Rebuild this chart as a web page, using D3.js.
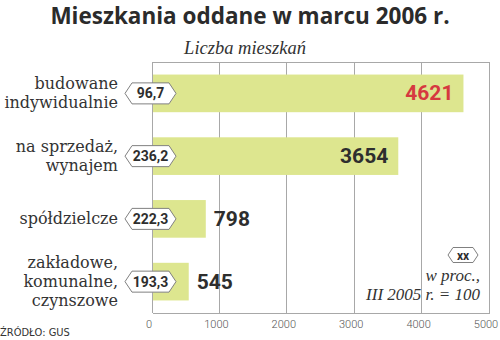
<!DOCTYPE html>
<html>
<head>
<meta charset="utf-8">
<script src="https://cdn.jsdelivr.net/npm/d3@7"></script>
<style>
  html, body { margin: 0; padding: 0; background: #fff; }
  svg { display: block; }
</style>
</head>
<body>
<svg id="chart" width="500" height="340"></svg>
<script>
// Dwellings completed in March 2006, by type of construction
const categories = [
  "budowane\nindywidualnie",
  "na sprzedaż,\nwynajem",
  "spółdzielcze",
  "zakładowe,\nkomunalne,\nczynszowe"
];
const values = [4621, 3654, 798, 545];
const indexValues = ["96,7", "236,2", "222,3", "193,3"];   // March 2005 = 100
const tickValues = [0, 1000, 2000, 3000, 4000, 5000];

const W = 500, H = 340;
const margin = { top: 62, right: 11, bottom: 27, left: 152 };
const svg = d3.select("#chart");

const x = d3.scaleLinear().domain([0, 5000]).range([margin.left, W - margin.right]);
const y = d3.scaleBand().domain(categories).range([margin.top, H - margin.bottom]).paddingInner(0.4).paddingOuter(0.2);

const barColor = "#dde68f";
const gridColor = "#a8a8a8";
const sans = "Roboto, 'DejaVu Sans', sans-serif";
const slab = "'DejaVu Serif', serif";
const ital = "'Liberation Serif', serif";

// Title and subtitle
svg.append("text")
  .attr("x", 250).attr("y", 24)
  .attr("text-anchor", "middle")
  .style("font-family", "'Open Sans', sans-serif").style("font-weight", 700).style("font-size", "22.5px")
  .style("fill", "#2b2b2b")
  .text("Mieszkania oddane w marcu 2006 r.");
svg.append("text")
  .attr("x", 245).attr("y", 54)
  .attr("text-anchor", "middle")
  .style("font-family", ital).style("font-style", "italic").style("font-size", "18.5px")
  .style("fill", "#333")
  .text("Liczba mieszkań");

// Vertical grid lines
svg.append("g").selectAll("line").data(tickValues.slice(1)).join("line")
  .attr("x1", d => x(d)).attr("x2", d => x(d))
  .attr("y1", margin.top).attr("y2", H - margin.bottom)
  .attr("stroke", gridColor).attr("stroke-width", 1).attr("shape-rendering", "crispEdges");

// Bars
svg.append("g").selectAll("rect").data(values).join("rect")
  .attr("x", x(0))
  .attr("y", (d, i) => y(categories[i]))
  .attr("width", d => x(d) - x(0))
  .attr("height", y.bandwidth())
  .attr("fill", barColor);

// Frame: top and left edges
const frame = svg.append("g").attr("stroke", gridColor).attr("shape-rendering", "crispEdges");
frame.append("line").attr("x1", x(0)).attr("x2", x(5000)).attr("y1", margin.top).attr("y2", margin.top);
frame.append("line").attr("x1", x(0)).attr("x2", x(0)).attr("y1", margin.top).attr("y2", H - margin.bottom);

// Bottom axis
const axis = svg.append("g")
  .attr("transform", `translate(0,${H - margin.bottom})`)
  .call(d3.axisBottom(x).tickValues(tickValues).tickSize(0).tickPadding(7).tickFormat(d3.format("d")));
axis.select(".domain").attr("stroke", gridColor).attr("shape-rendering", "crispEdges");
axis.selectAll("text")
  .attr("dx", -3.5)
  .style("font-family", sans).style("font-weight", 300).style("font-size", "11px").style("fill", "#555");

// Value labels: the two long bars carry them inside, the short ones outside
svg.append("g").selectAll("text").data(values).join("text")
  .attr("x", d => d > 2000 ? x(d) - 10 : x(d) + 8)
  .attr("y", (d, i) => y(categories[i]) + y.bandwidth() / 2 + 7)
  .attr("text-anchor", d => d > 2000 ? "end" : "start")
  .style("font-family", sans).style("font-weight", 700).style("font-size", "21px")
  .style("fill", (d, i) => i === 0 ? "#d6393f" : "#2e2e2e")
  .text(d => d);

// Hexagonal badge path centred at 0,0
function hexPath(w, h, tip) {
  const hw = w / 2, hh = h / 2;
  return `M${-hw},0 L${-hw + tip},${-hh} L${hw - tip},${-hh} L${hw},0 L${hw - tip},${hh} L${-hw + tip},${hh} Z`;
}

// Index badges on the axis
const badges = svg.append("g").selectAll("g").data(indexValues).join("g")
  .attr("transform", (d, i) => `translate(${x(0) - 1.5},${y(categories[i]) + y.bandwidth() / 2})`);
badges.append("path")
  .attr("d", hexPath(51, 21, 7))
  .attr("fill", "#fff").attr("stroke", "#808080").attr("stroke-width", 1);
badges.append("text")
  .attr("y", 5)
  .attr("text-anchor", "middle")
  .style("font-family", sans).style("font-weight", 700).style("font-size", "14px")
  .style("fill", "#2e2e2e")
  .text(d => d);

// Category labels
const catLabels = svg.append("g").selectAll("text").data(categories).join("text")
  .attr("text-anchor", "end")
  .style("font-family", slab).style("font-weight", 300).style("font-size", "16px")
  .style("fill", "#333");
catLabels.each(function (d) {
  const lines = d.split("\n");
  const cy = y(d) + y.bandwidth() / 2;
  const lh = 19;
  const first = cy - (lines.length - 1) * lh / 2 + 5;
  d3.select(this).selectAll("tspan").data(lines).join("tspan")
    .attr("x", 118)
    .attr("y", (l, j) => first + j * lh)
    .text(l => l);
});

// Legend for the badges
const legend = svg.append("g").attr("transform", `translate(463,255)`);
legend.append("path").attr("d", hexPath(30, 15, 5)).attr("fill", "#fff").attr("stroke", "#808080");
legend.append("text").attr("y", 4.5).attr("text-anchor", "middle")
  .style("font-family", sans).style("font-weight", 700).style("font-size", "12px").style("fill", "#2e2e2e")
  .text("xx");
svg.append("text")
  .attr("text-anchor", "end")
  .style("font-family", ital).style("font-style", "italic").style("font-size", "17px").style("fill", "#333")
  .selectAll("tspan").data(["w proc.,", "III 2005 r. = 100"]).join("tspan")
  .attr("x", 480).attr("y", (d, i) => 281 + i * 18.5)
  .text(d => d);

// Source note
svg.append("text")
  .attr("x", 0).attr("y", 336)
  .style("font-family", "'DejaVu Sans Condensed', 'DejaVu Sans', sans-serif").style("font-size", "11px")
  .style("fill", "#333")
  .text("ŹRÓDŁO: GUS");
</script>
</body>
</html>
